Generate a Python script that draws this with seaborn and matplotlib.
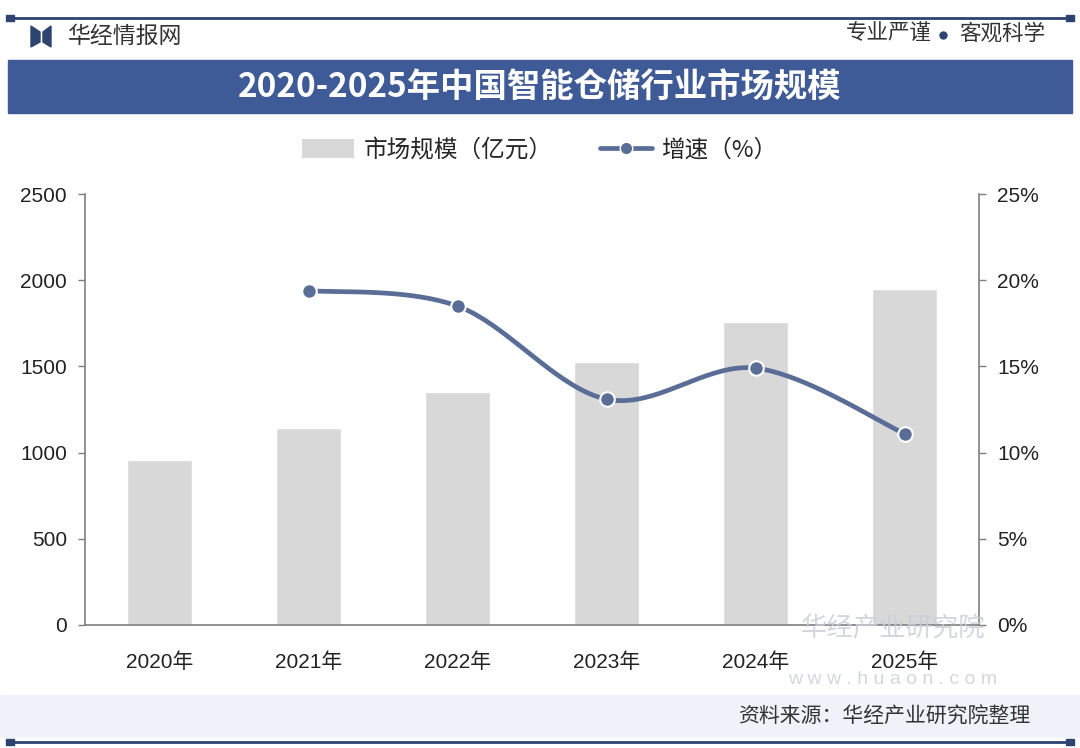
import numpy as np
import pandas as pd
import matplotlib
matplotlib.use("Agg")
import matplotlib.pyplot as plt
import seaborn as sns
from matplotlib.patches import Rectangle, Patch, Polygon
from matplotlib.lines import Line2D
from matplotlib.ticker import FuncFormatter, FixedLocator

# ---- data ----
years = ["2020年", "2021年", "2022年", "2023年", "2024年", "2025年"]
market_size = [955, 1140, 1354, 1528, 1759, 1950]          # 亿元
growth_years = ["2021年", "2022年", "2023年", "2024年", "2025年"]
growth_rate = [19.4, 18.5, 13.1, 14.9, 11.1]               # %

title = "2020-2025年中国智能仓储行业市场规模"
legend_bar = "市场规模（亿元）"
legend_line = "增速（%）"
source = "资料来源：华经产业研究院整理"

sns.set_theme(style="white")
FAM = ["Liberation Sans", "Noto Sans CJK SC", "DejaVu Sans"]
CJK = ["Noto Sans CJK SC", "DejaVu Sans"]
plt.rcParams["font.family"] = FAM

W, H = 1080, 748
fig = plt.figure(figsize=(W / 100, H / 100), dpi=100)
fig.patch.set_facecolor("white")

def fx(px):
    return px / W

def fy(py):
    return 1 - py / H

NAVY = "#2E4470"
BANNER = "#3E5A97"
BAR = "#D8D8D8"
LINE = "#5A6D97"
GRAY_AX = "#7F7F7F"

# ---- header decorations ----
fig.add_artist(Line2D([fx(10), fx(1070)], [fy(18), fy(18)], color=NAVY, lw=2))
for x0 in (6, 1066):
    fig.add_artist(Rectangle((fx(x0), fy(21)), fx(8), 6 / H, color=NAVY))
# logo mark (two mirrored wedges)
fig.add_artist(Polygon([(fx(31), fy(26)), (fx(40), fy(32)), (fx(40), fy(42)),
                        (fx(31), fy(47))], closed=True, color=NAVY))
fig.add_artist(Polygon([(fx(51), fy(26)), (fx(43), fy(32)), (fx(43), fy(42)),
                        (fx(51), fy(47))], closed=True, color=NAVY))
fig.text(fx(68), fy(36), "华经情报网", family=CJK, fontsize=16.5, color="#333333",
         va="center", ha="left")
fig.text(fx(932), fy(34), "专业严谨", family=CJK, fontsize=15.5,
         color="#333333", va="center", ha="right")
fig.text(fx(1045), fy(34), "客观科学", family=CJK, fontsize=15.5,
         color="#333333", va="center", ha="right")
fig.add_artist(Line2D([fx(943)], [fy(35)], marker="o", markersize=5,
                      color=NAVY, lw=0))
fig.add_artist(Rectangle((fx(8), fy(113)), fx(1064), 53 / H, color=BANNER))
fig.text(0.5, fy(88), title, family=CJK, fontsize=24, fontweight="bold",
         color="white", va="center", ha="center")

# ---- footer ----
fig.add_artist(Rectangle((0, fy(737)), 1, 42 / H, color="#EFF3F9", zorder=0))
fig.text(fx(1030), fy(717), source, family=CJK, fontsize=15, color="#333333",
         va="center", ha="right")
fig.add_artist(Line2D([fx(10), fx(1070)], [fy(742), fy(742)], color=NAVY, lw=2))
for x0 in (6, 1066):
    fig.add_artist(Rectangle((fx(x0), fy(745)), fx(8), 6 / H, color=NAVY))

# watermark
fig.text(fx(893), fy(629), "华经产业研究院", family=CJK, fontsize=19,
         color="#C9CDD5", alpha=0.8, va="center", ha="center", zorder=0)
fig.text(fx(893), fy(680), "w w w . h u a o n . c o m", fontsize=14,
         color="#C9CDD5", alpha=0.8, va="center", ha="center", zorder=0)

# ---- main axes ----
ax = fig.add_axes([fx(85), fy(625), fx(979) - fx(85), (625 - 194) / H])
ax.set_facecolor("none")
df = pd.DataFrame({"year": years, "size": market_size})
sns.barplot(data=df, x="year", y="size", color=BAR, saturation=1, width=0.44,
            ax=ax, zorder=2)
ax.set_xlim(-0.5, len(years) - 0.5)
ax.set_ylim(0, 2500)
ax.set_yticks([0, 500, 1000, 1500, 2000, 2500])
ax.set_xlabel("")
ax.set_ylabel("")
ax.tick_params(axis="x", which="major", length=0, pad=20, labelsize=15,
               labelcolor="#222222")
ax.xaxis.set_minor_locator(FixedLocator(np.arange(-0.5, len(years), 1.0)))
ax.tick_params(axis="x", which="minor", length=6, width=1, color=GRAY_AX,
               direction="out")
ax.tick_params(axis="y", length=5, width=1, color=GRAY_AX, direction="out",
               labelsize=15, labelcolor="#222222", pad=8)
for lab in ax.get_xticklabels():
    lab.set_family(FAM)
for s in ("left", "bottom"):
    ax.spines[s].set_color(GRAY_AX)
    ax.spines[s].set_linewidth(1.2)
ax.spines["top"].set_visible(False)
ax.spines["right"].set_visible(False)

# ---- growth line (secondary axis) ----
ax2 = ax.twinx()
xpos = np.array([years.index(y) for y in growth_years], dtype=float)
yv = np.array(growth_rate) / 100.0

# Catmull-Rom smoothing for drawing the curve
P = np.column_stack([xpos, yv])
Pext = np.vstack([P[0], P, P[-1]])
curve = []
t = np.linspace(0, 1, 40)
for i in range(1, len(Pext) - 2):
    p0, p1, p2, p3 = Pext[i - 1], Pext[i], Pext[i + 1], Pext[i + 2]
    tt = t[:, None]
    seg = 0.5 * ((2 * p1) + (-p0 + p2) * tt + (2 * p0 - 5 * p1 + 4 * p2 - p3) * tt ** 2
                 + (-p0 + 3 * p1 - 3 * p2 + p3) * tt ** 3)
    curve.append(seg if i == 1 else seg[1:])
curve = np.vstack(curve)
cdf = pd.DataFrame({"x": curve[:, 0], "y": curve[:, 1]})
sns.lineplot(data=cdf, x="x", y="y", sort=False, color=LINE, lw=3.4, ax=ax2,
             zorder=3)
pdf = pd.DataFrame({"x": xpos, "y": yv})
sns.scatterplot(data=pdf, x="x", y="y", color=LINE, s=110, edgecolor="white",
                linewidth=1.5, ax=ax2, zorder=4)
ax2.set_xlim(-0.5, len(years) - 0.5)
ax2.set_ylim(0, 0.25)
ax2.set_yticks([0, 0.05, 0.10, 0.15, 0.20, 0.25])
ax2.yaxis.set_major_formatter(FuncFormatter(lambda v, p: f"{v*100:.0f}%"))
ax2.set_xlabel("")
ax2.set_ylabel("")
ax2.tick_params(axis="y", length=5, width=1, color=GRAY_AX, direction="out",
                labelsize=15, labelcolor="#222222", pad=8)
for s in ("top", "left", "bottom"):
    ax2.spines[s].set_visible(False)
ax2.spines["right"].set_color(GRAY_AX)
ax2.spines["right"].set_linewidth(1.2)

# ---- legend ----
handles = [Patch(facecolor=BAR, edgecolor="none"),
           Line2D([0], [0], color=LINE, lw=3.4, marker="o", markersize=9,
                  markerfacecolor=LINE, markeredgecolor="white")]
fig.legend(handles, [legend_bar, legend_line], loc="center",
           bbox_to_anchor=(0.5, fy(150)), ncol=2, frameon=False,
           prop={"family": CJK, "size": 17}, handlelength=2.2,
           handleheight=0.9, columnspacing=2.0, handletextpad=0.4)

fig.savefig("out.png", dpi=100, facecolor="white")
